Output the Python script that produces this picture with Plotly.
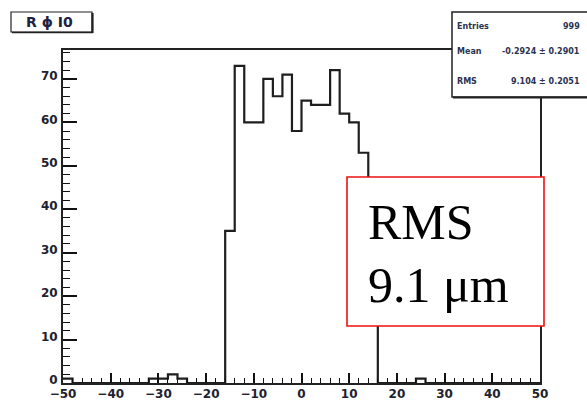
import plotly.graph_objects as go

# Histogram contents: 50 bins of width 2 from -50 to 50
bin_low = -50
bin_width = 2
counts = [
    1, 0, 0, 0, 0, 0, 0, 0, 0, 1,     # -50 .. -30
    1, 2, 1, 0, 0, 0, 0, 35, 73, 60,  # -30 .. -10
    60, 70, 66, 71, 58, 65, 64, 64, 72, 62,  # -10 .. 10
    60, 53, 44, 0, 0, 0, 0, 1, 0, 0,  # 10 .. 30
    0, 0, 0, 0, 0, 0, 0, 0, 0, 0,     # 30 .. 50
]
x_ticks = [-50, -40, -30, -20, -10, 0, 10, 20, 30, 40, 50]
y_ticks = [0, 10, 20, 30, 40, 50, 60, 70]

stats_names = ["Entries", "Mean", "RMS"]
stats_values = ["999", "-0.2924 \u00b1 0.2901", "9.104 \u00b1 0.2051"]
hist_title = "R \u03d5 I0"
note_lines = ["RMS", "9.1 \u03bcm"]

edges = [bin_low + i * bin_width for i in range(len(counts) + 1)]
step_y = counts + [counts[-1]]

# plot-area geometry in pixels
W, H = 587, 400
L, R, T, B = 63, 540, 50, 383


def px(x):
    return (x - L) / (R - L)


def py(y):
    return (B - y) / (B - T)


fig = go.Figure()
fig.add_trace(go.Scatter(
    x=edges, y=step_y, mode="lines", line_shape="hv",
    line=dict(color="#1e1e1e", width=2.2), hoverinfo="skip", showlegend=False,
))

tick_font = dict(family="DejaVu Sans", size=12, color="#22222e", weight="bold")
xtick_font = dict(family="DejaVu Sans", size=12, color="#22222e", weight="bold")

fig.update_layout(
    width=W, height=H,
    margin=dict(l=L, r=W - R, t=T, b=H - B),
    paper_bgcolor="white", plot_bgcolor="white",
    xaxis=dict(
        range=[-50, 50], tickvals=x_ticks, ticks="inside", ticklen=10,
        tickwidth=1.5, tickcolor="#111", showgrid=False, zeroline=False,
        showline=True, linewidth=2, linecolor="#222", mirror=True,
        tickfont=xtick_font, automargin=False, ticklabelstandoff=-1,
        minor=dict(dtick=2, ticks="inside", ticklen=5, tickwidth=1.2, tickcolor="#111"),
    ),
    yaxis=dict(
        range=[0, max(counts) * 1.05], tickvals=y_ticks, ticks="inside",
        ticklen=14, tickwidth=1.5, tickcolor="#111", showgrid=False,
        zeroline=False, showline=True, linewidth=2, linecolor="#222",
        mirror=True, tickfont=tick_font, automargin=False, ticklabelstandoff=1,
        ticklabelshift=-3,
        minor=dict(dtick=2, ticks="inside", ticklen=7, tickwidth=1.2, tickcolor="#111"),
    ),
)

shapes = []
# red annotation box
shapes.append(dict(type="rect", xref="paper", yref="paper",
                   x0=px(347), x1=px(544), y0=py(326), y1=py(177),
                   line=dict(color="#ee1111", width=1.6), fillcolor="white", layer="above"))
# statistics box with shadow
shapes.append(dict(type="rect", xref="paper", yref="paper",
                   x0=px(452), x1=px(600), y0=py(97), y1=py(12),
                   line=dict(color="#222", width=1.5), fillcolor="white", layer="above"))
shapes.append(dict(type="line", xref="paper", yref="paper",
                   x0=px(453), x1=px(600), y0=py(97.5), y1=py(97.5),
                   line=dict(color="#222", width=2), layer="above"))
# title box with shadow
shapes.append(dict(type="rect", xref="paper", yref="paper",
                   x0=px(11), x1=px(92), y0=py(32), y1=py(12),
                   line=dict(color="#222", width=1.2), fillcolor="white", layer="above"))
shapes.append(dict(type="line", xref="paper", yref="paper",
                   x0=px(92.5), x1=px(92.5), y0=py(33), y1=py(13),
                   line=dict(color="#222", width=2.2), layer="above"))
shapes.append(dict(type="line", xref="paper", yref="paper",
                   x0=px(12), x1=px(93), y0=py(32.5), y1=py(32.5),
                   line=dict(color="#222", width=1.6), layer="above"))
fig.update_layout(shapes=shapes)

stat_font = dict(family="DejaVu Sans", size=8, color="#2a3350", weight="bold")
stat_rows = [26, 51, 81]
for name, val, yy in zip(stats_names, stats_values, stat_rows):
    fig.add_annotation(xref="paper", yref="paper", x=px(455), y=py(yy),
                       text=name, showarrow=False, xanchor="left", yanchor="middle",
                       font=stat_font)
    fig.add_annotation(xref="paper", yref="paper", x=px(582), y=py(yy),
                       text=val, showarrow=False, xanchor="right", yanchor="middle",
                       font=stat_font)

fig.add_annotation(xref="paper", yref="paper", x=px(49), y=py(22),
                   text=hist_title, showarrow=False, xanchor="center", yanchor="middle",
                   font=dict(family="DejaVu Sans", size=14, color="#1e2240", weight="bold"))

note_font = dict(family="Liberation Serif", size=50, color="black")
fig.add_annotation(xref="paper", yref="paper", x=px(366), y=py(222),
                   text=note_lines[0], showarrow=False, xanchor="left", yanchor="middle",
                   font=note_font)
fig.add_annotation(xref="paper", yref="paper", x=px(366), y=py(285),
                   text=note_lines[1], showarrow=False, xanchor="left", yanchor="middle",
                   font=note_font)

fig.write_html("out.html")
